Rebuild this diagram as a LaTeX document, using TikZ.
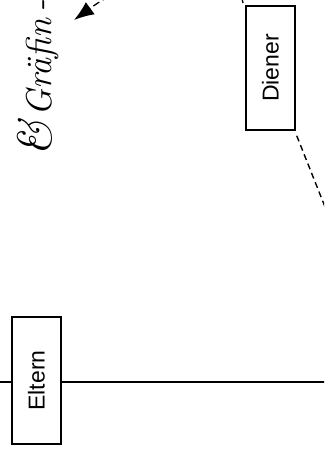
\documentclass[tikz,border=0pt]{standalone}
\usepackage{fontspec}
\usetikzlibrary{arrows.meta}
\newfontfamily\boxfont{Liberation Sans}
\tikzset{
  x=1pt, y=-1pt,
  labelbox/.style={draw, line width=1.5pt, rotate=90, font=\boxfont\fontsize{23}{24}\selectfont, inner sep=0pt},
  dashline/.style={line width=1.4pt, dash pattern=on 6pt off 4pt},
  dashdotline/.style={line width=1.3pt, dash pattern=on 7pt off 4pt on 1.5pt off 4pt},
  solidline/.style={line width=1.5pt},
  scripttext/.style={rotate=90, font=\itshape\fontsize{36}{38}\selectfont, inner sep=0pt}
}
\begin{document}
\begin{tikzpicture}
\useasboundingbox (0,0) rectangle (324,454);
\clip (0,0) rectangle (324,454);
% boxes (rotated text; width/height swapped)
\node[labelbox, minimum width=124pt, minimum height=49pt] (diener) at (270.5,68) {Diener};
\node[labelbox, minimum width=127pt, minimum height=49pt] (eltern) at (36.5,380.5) {Eltern};
% script label
\node[scripttext, anchor=base west] (graefin) at (51,157) {{\fontsize{48}{50}\selectfont\&}\hspace{4pt}Gräfin\hspace{6pt}-};
% solid line through Eltern
\coordinate (lend) at (-5,382);
\coordinate (rend) at (330,382);
\draw[solidline] (lend) -- (eltern.north |- lend);
\draw[solidline] (eltern.south |- rend) -- (rend);
% dashed line from Diener bottom
\coordinate (dout) at (331,222);
\draw[dashline] ([xshift=1pt,yshift=-5pt]diener.west -| diener.south) -- (dout);
% dash-dot arrow from Diener top to script label
\coordinate (astart) at (243,3);
\coordinate (aend) at (74,20);
\draw[dashdotline, -{Latex[length=20pt,width=15pt]}] (astart) .. controls (235,-45) and (150,-35) .. (aend);
\end{tikzpicture}
\end{document}
